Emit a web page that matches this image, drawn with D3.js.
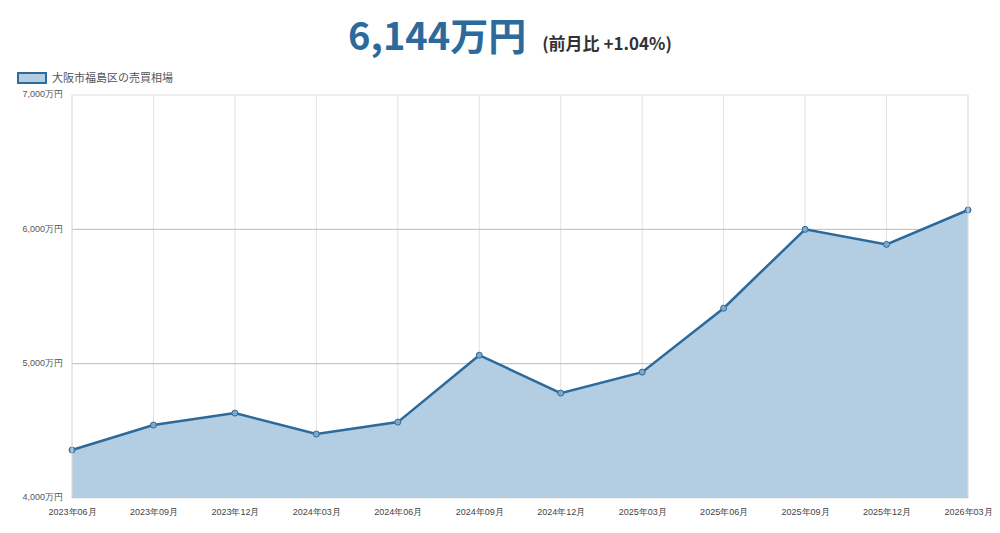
<!DOCTYPE html>
<html lang="ja">
<head>
<meta charset="UTF-8">
<style>
  body { margin: 0; background: #fff; font-family: "Noto Sans CJK JP", "Noto Sans", sans-serif; }
</style>
</head>
<body>
<script src="https://d3js.org/d3.v7.min.js"></script>
<script>
'use strict';

const months = ['2023年06月', '2023年09月', '2023年12月', '2024年03月', '2024年06月', '2024年09月',
  '2024年12月', '2025年03月', '2025年06月', '2025年09月', '2025年12月', '2026年03月'];
const prices = [4357, 4543, 4632, 4476, 4565, 5063, 4781, 4937, 5413, 6000, 5888, 6144];
const yTicks = [4000, 5000, 6000, 7000];

const width = 1000, height = 533;
const plotLeft = 72, plotRight = 968, plotTop = 95, plotBottom = 498;
const lineColor = '#2b6a9b', fillColor = '#b3cde2';

const svg = d3.select('body').append('svg')
  .attr('width', width)
  .attr('height', height);

const x = d3.scalePoint().domain(months).range([plotLeft, plotRight]);
const y = d3.scaleLinear().domain([4000, 7000]).range([plotBottom, plotTop]);

// title
const title = svg.append('text')
  .attr('x', 510).attr('y', 50)
  .attr('text-anchor', 'middle')
  .attr('font-weight', 'bold');
title.append('tspan').attr('font-size', 38).attr('fill', lineColor).text('6,144万円');
title.append('tspan').attr('font-size', 17).attr('fill', '#333').attr('dx', 16).text('(前月比 +1.04%)');

// legend
svg.append('rect').attr('x', 18).attr('y', 73).attr('width', 28).attr('height', 10)
  .attr('fill', fillColor).attr('stroke', lineColor).attr('stroke-width', 2);
svg.append('text').attr('x', 52).attr('y', 82).attr('font-size', 11).attr('fill', '#555').text('大阪市福島区の売買相場');

// grid
svg.append('g').selectAll('line').data(months).join('line')
  .attr('x1', d => x(d)).attr('x2', d => x(d)).attr('y1', plotTop).attr('y2', plotBottom)
  .attr('stroke', '#e2e2e2');
svg.append('g').selectAll('line').data(yTicks).join('line')
  .attr('x1', plotLeft).attr('x2', plotRight).attr('y1', d => y(d)).attr('y2', d => y(d))
  .attr('stroke', d => d === 4000 || d === 7000 ? '#ddd' : '#bbb');

// area + line
svg.append('path').datum(prices)
  .attr('fill', fillColor)
  .attr('d', d3.area().x((d, i) => x(months[i])).y0(y(4000)).y1(d => y(d)));
svg.append('path').datum(prices)
  .attr('fill', 'none').attr('stroke', lineColor).attr('stroke-width', 2.5)
  .attr('d', d3.line().x((d, i) => x(months[i])).y(d => y(d)));
svg.append('g').selectAll('circle').data(prices).join('circle')
  .attr('cx', (d, i) => x(months[i])).attr('cy', d => y(d)).attr('r', 3)
  .attr('fill', '#7fa8cb').attr('stroke', lineColor).attr('stroke-width', 1);

// axes
const yAxis = svg.append('g').attr('transform', `translate(${plotLeft - 6},0)`)
  .call(d3.axisLeft(y).tickValues(yTicks).tickSize(0).tickFormat(d => d3.format(',')(d) + '万円'));
yAxis.select('.domain').remove();
yAxis.selectAll('text').attr('font-size', 9).attr('fill', '#555').attr('dy', '0.2em');

svg.append('line').attr('x1', plotLeft).attr('x2', plotLeft).attr('y1', plotTop).attr('y2', plotBottom).attr('stroke', '#ddd');
svg.append('line').attr('x1', plotRight).attr('x2', plotRight).attr('y1', plotTop).attr('y2', plotBottom).attr('stroke', '#ddd');

const xAxis = svg.append('g').attr('transform', `translate(0,${plotBottom + 8})`)
  .call(d3.axisBottom(x).tickSize(0));
xAxis.select('.domain').remove();
xAxis.selectAll('text').attr('font-size', 9).attr('fill', '#444');
</script>
</body>
</html>
